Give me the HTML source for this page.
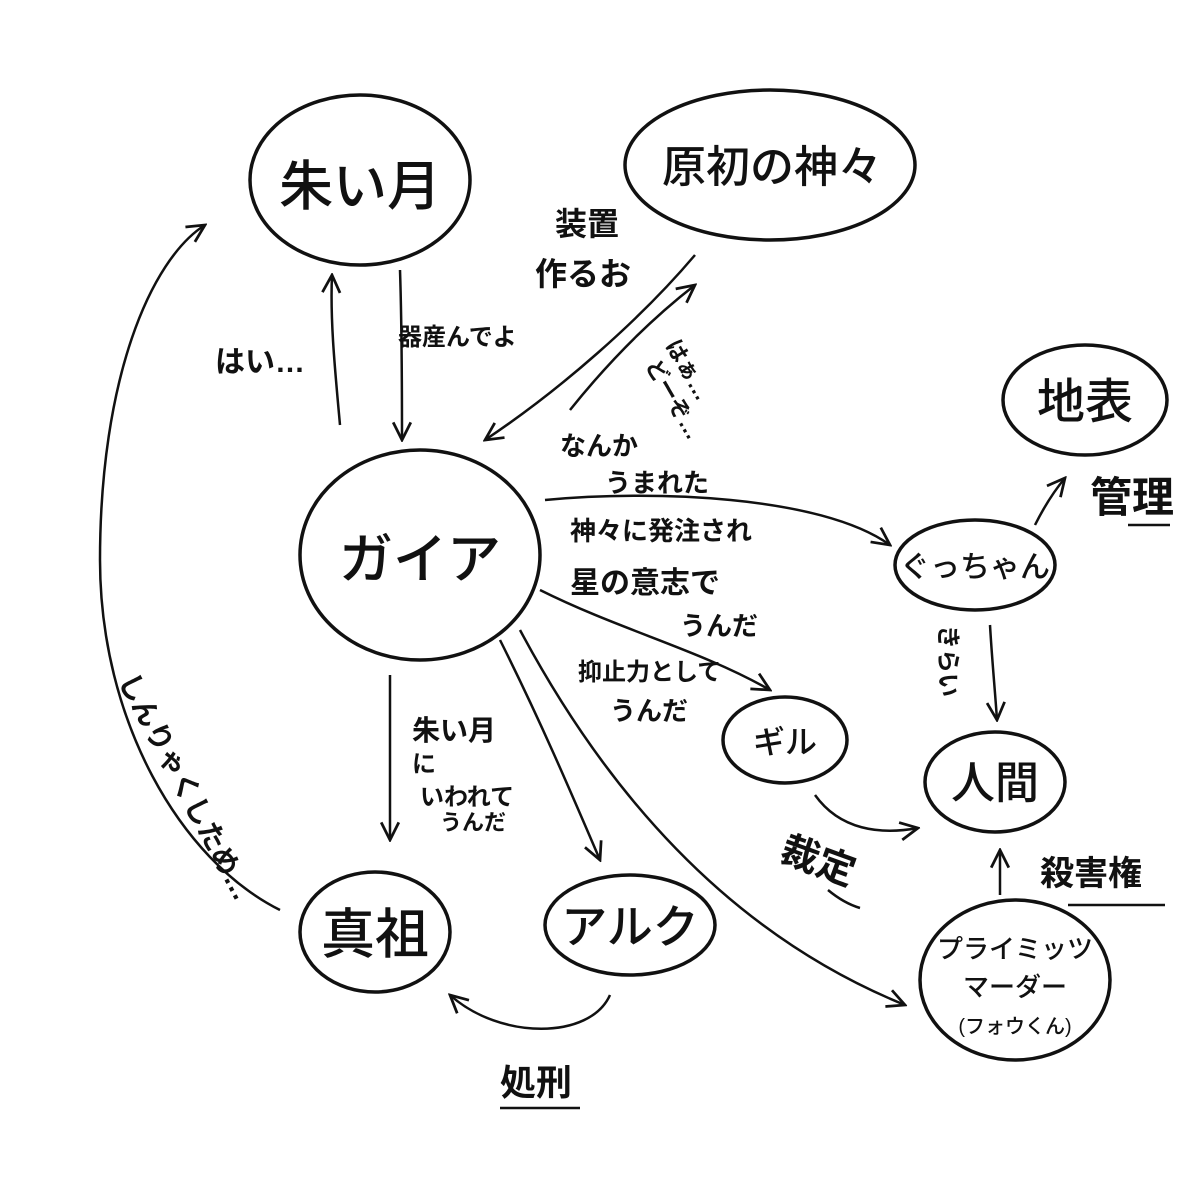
<!DOCTYPE html>
<html><head><meta charset="utf-8"><style>
html,body{margin:0;padding:0;background:#fff;}
svg{display:block;}
text{font-family:"Liberation Sans","Noto Sans CJK JP",sans-serif;fill:#111;font-weight:bold;}
text.n{font-weight:500;}
</style></head><body>
<svg width="1200" height="1200" viewBox="0 0 1200 1200" xmlns="http://www.w3.org/2000/svg">
<defs>
<marker id="a" viewBox="0 0 20 20" refX="18" refY="10" markerWidth="22" markerHeight="22" markerUnits="userSpaceOnUse" orient="auto">
<path d="M2,2 L18,10 L2,18" fill="none" stroke="#111" stroke-width="2.5"/>
</marker>
</defs>
<g fill="none" stroke="#111" stroke-width="3.5">
<ellipse cx="360" cy="180" rx="110" ry="85"/>
<ellipse cx="770" cy="165" rx="145" ry="75"/>
<ellipse cx="420" cy="555" rx="120" ry="105"/>
<ellipse cx="1085" cy="400" rx="82" ry="55"/>
<ellipse cx="975" cy="565" rx="80" ry="45"/>
<ellipse cx="785" cy="740" rx="62" ry="43"/>
<ellipse cx="995" cy="782" rx="70" ry="50"/>
<ellipse cx="375" cy="932" rx="75" ry="60"/>
<ellipse cx="630" cy="925" rx="85" ry="50"/>
<ellipse cx="1015" cy="980" rx="95" ry="80"/>
</g>
<g fill="none" stroke="#111" stroke-width="2.5">
<path d="M340,425 C335,370 330,320 332,275" marker-end="url(#a)"/>
<path d="M400,270 C402,330 402,390 402,440" marker-end="url(#a)"/>
<path d="M280,910 C180,860 100,720 100,560 C100,380 150,260 205,225" marker-end="url(#a)"/>
<path d="M695,255 C640,320 560,390 485,440" marker-end="url(#a)"/>
<path d="M570,410 C610,360 650,320 695,285" marker-end="url(#a)"/>
<path d="M545,500 C650,490 820,495 890,545" marker-end="url(#a)"/>
<path d="M1035,525 C1045,505 1055,490 1065,478" marker-end="url(#a)"/>
<path d="M540,590 C620,630 700,650 770,690" marker-end="url(#a)"/>
<path d="M990,625 C992,660 995,690 997,720" marker-end="url(#a)"/>
<path d="M815,795 C840,830 880,835 918,828" marker-end="url(#a)"/>
<path d="M1000,895 L1000,850" marker-end="url(#a)"/>
<path d="M390,675 L390,840" marker-end="url(#a)"/>
<path d="M500,640 C540,720 570,790 600,860" marker-end="url(#a)"/>
<path d="M520,630 C600,780 720,930 905,1005" marker-end="url(#a)"/>
<path d="M610,995 C590,1040 500,1040 450,995" marker-end="url(#a)"/>
<path d="M1128,525 L1170,525"/>
<path d="M1068,905 L1165,905"/>
<path d="M828,890 C840,900 850,905 860,908"/>
<path d="M500,1108 L580,1108"/>
</g>
<text class="n" x="360" y="205" font-size="54" text-anchor="middle">朱い月</text>
<text class="n" x="772" y="182" font-size="44" text-anchor="middle">原初の神々</text>
<text class="n" x="420" y="578" font-size="54" text-anchor="middle">ガイア</text>
<text class="n" x="1085" y="418" font-size="48" text-anchor="middle">地表</text>
<text class="n" x="975" y="577" font-size="30" text-anchor="middle">ぐっちゃん</text>
<text class="n" x="785" y="753" font-size="32" text-anchor="middle">ギル</text>
<text class="n" x="995" y="798" font-size="44" text-anchor="middle">人間</text>
<text class="n" x="375" y="953" font-size="54" text-anchor="middle">真祖</text>
<text class="n" x="630" y="943" font-size="46" text-anchor="middle">アルク</text>
<text class="n" x="1015" y="958" font-size="26" text-anchor="middle">プライミッツ</text>
<text class="n" x="1015" y="996" font-size="26" text-anchor="middle">マーダー</text>
<text class="n" x="1015" y="1033" font-size="20" text-anchor="middle">(フォウくん)</text>
<text x="215" y="372" font-size="30">はい…</text>
<text x="398" y="345" font-size="24">器産んでよ</text>
<text x="555" y="235" font-size="32">装置</text>
<text x="535" y="285" font-size="32">作るお</text>
<text x="665" y="345" font-size="22" transform="rotate(60 665 345)">はぁ…</text>
<text x="645" y="365" font-size="22" transform="rotate(60 645 365)">どーぞ…</text>
<text x="560" y="455" font-size="26">なんか</text>
<text x="605" y="492" font-size="26">うまれた</text>
<text x="570" y="540" font-size="26">神々に発注され</text>
<text x="570" y="593" font-size="30">星の意志で</text>
<text x="680" y="635" font-size="26">うんだ</text>
<text x="578" y="680" font-size="24">抑止力として</text>
<text x="610" y="720" font-size="26">うんだ</text>
<text x="1090" y="512" font-size="42">管理</text>
<text x="940" y="625" font-size="24" transform="rotate(90 940 625)">きらい</text>
<text x="778" y="860" font-size="38" transform="rotate(20 778 860)">裁定</text>
<text x="1040" y="885" font-size="34">殺害権</text>
<text x="412" y="740" font-size="28">朱い月</text>
<text x="412" y="772" font-size="24">に</text>
<text x="420" y="805" font-size="24">いわれて</text>
<text x="440" y="830" font-size="22">うんだ</text>
<text x="118" y="680" font-size="28" transform="rotate(62 118 680)">しんりゃくしため…</text>
<text x="500" y="1095" font-size="36">処刑</text>
</svg>
</body></html>
